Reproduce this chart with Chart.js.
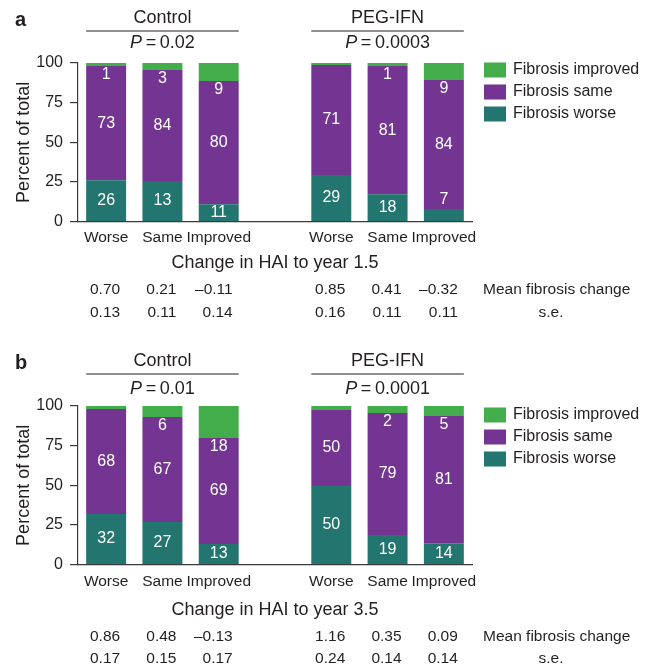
<!DOCTYPE html>
<html>
<head>
<meta charset="utf-8">
<script src="https://cdn.jsdelivr.net/npm/chart.js@4.4.1/dist/chart.umd.min.js"></script>
<style>
  html, body { margin: 0; padding: 0; background: #fff; }
  canvas { position: absolute; left: 0; }
  #chartA { top: 0; }
  #chartB { top: 334px; }
</style>
</head>
<body>
<canvas id="chartA" width="654" height="334"></canvas>
<canvas id="chartB" width="654" height="333"></canvas>
<script>
// categories (index 3 is the gap between the two groups)
const categories = ['Worse', 'Same', 'Improved', '', 'Worse', 'Same', 'Improved'];
const groups = ['Control', 'PEG-IFN'];

// panel a: bar heights as drawn (percent)
const aWorse = [26.1, 25.6, 11.0, null, 29.4, 17.3, 8.0];
const aSame = [72.0, 70.0, 77.7, null, 69.3, 80.8, 81.3];
const aImproved = [1.9, 4.4, 11.3, null, 1.3, 1.9, 10.7];
// panel a: numbers printed on the bars
const aWorseLbl = [26, 13, 11, null, 29, 18, 7];
const aSameLbl = [73, 84, 80, null, 71, 81, 84];
const aImprovedLbl = [1, 3, 9, null, null, 1, 9];
const aP = ['0.02', '0.0003'];
const aMean = [0.70, 0.21, -0.11, null, 0.85, 0.41, -0.32];
const aSE = [0.13, 0.11, 0.14, null, 0.16, 0.11, 0.11];

// panel b
const bWorse = [31.9, 26.9, 13.0, null, 49.6, 18.7, 13.5];
const bSame = [66.2, 66.2, 66.8, null, 47.9, 76.9, 80.2];
const bImproved = [1.9, 6.9, 20.2, null, 2.5, 4.4, 6.3];
const bWorseLbl = [32, 27, 13, null, 50, 19, 14];
const bSameLbl = [68, 67, 69, null, 50, 79, 81];
const bImprovedLbl = [null, 6, 18, null, null, 2, 5];
const bP = ['0.01', '0.0001'];
const bMean = [0.86, 0.48, -0.13, null, 1.16, 0.35, 0.09];
const bSE = [0.17, 0.15, 0.17, null, 0.24, 0.14, 0.14];

const FONT = "'Liberation Sans', Arial, Helvetica, sans-serif";
const INK = '#231f20';
const AXIS = '#3a3a3a';
const GREEN = '#42ad4a';
const PURPLE = '#733591';
const TEAL = '#237570';

Chart.defaults.font.family = FONT;
Chart.defaults.color = INK;

function fmt(v) {
    return v.toFixed(2).replace('-', '\u2013');
}

// draws the texts around the bars: headers, labels in bars, legend and the table below
const annotations = {
    id: 'annotations',
    afterDatasetsDraw(chart, args, opts) {
        const ctx = chart.ctx;
        const worse = chart.getDatasetMeta(0).data;
        const same = chart.getDatasetMeta(1).data;
        ctx.save();
        ctx.fillStyle = '#fff';
        ctx.font = `16px ${FONT}`;
        ctx.textAlign = 'center';
        ctx.textBaseline = 'middle';
        for (let i = 0; i < worse.length; i++) {
            if (opts.worseLbl[i] == null) continue;
            const w = worse[i], s = same[i];
            const h = w.base - w.y;
            ctx.fillText(opts.worseLbl[i], w.x, h >= 15 ? (w.y + w.base) / 2 : w.y - 9);
            ctx.fillText(opts.sameLbl[i], s.x, (s.y + s.base) / 2);
            if (opts.improvedLbl[i] != null) {
                ctx.fillText(opts.improvedLbl[i], s.x, s.y + 9);
            }
        }
        ctx.restore();
    },
    afterDraw(chart, args, opts) {
        const ctx = chart.ctx;
        const area = chart.chartArea;
        const worse = chart.getDatasetMeta(0).data;
        ctx.save();
        ctx.fillStyle = INK;
        ctx.strokeStyle = INK;

        // panel letter
        ctx.font = `bold 20px ${FONT}`;
        ctx.textAlign = 'left';
        ctx.textBaseline = 'alphabetic';
        ctx.fillText(opts.letter, 15, area.top - 37);

        // group headers
        [[0, 2], [4, 6]].forEach(([from, to], g) => {
            const x0 = worse[from].x - worse[from].width / 2;
            const x1 = worse[to].x + worse[to].width / 2;
            const cx = (x0 + x1) / 2;
            ctx.font = `18px ${FONT}`;
            ctx.textAlign = 'center';
            ctx.textBaseline = 'middle';
            ctx.fillText(groups[g], cx, area.top - 45);
            ctx.lineWidth = 1.2;
            ctx.beginPath();
            ctx.moveTo(x0, area.top - 32);
            ctx.lineTo(x1, area.top - 32);
            ctx.stroke();
            const pPart = 'P';
            const rest = '\u2009=\u2009' + opts.p[g];
            ctx.font = `italic 18px ${FONT}`;
            const wp = ctx.measureText(pPart).width;
            ctx.font = `18px ${FONT}`;
            const wr = ctx.measureText(rest).width;
            const start = cx - (wp + wr) / 2;
            ctx.textAlign = 'left';
            ctx.font = `italic 18px ${FONT}`;
            ctx.fillText(pPart, start, area.top - opts.pOff);
            ctx.font = `18px ${FONT}`;
            ctx.fillText(rest, start + wp, area.top - opts.pOff);
        });

        // legend
        const sets = chart.data.datasets.slice().reverse();
        ctx.font = `16px ${FONT}`;
        ctx.textAlign = 'left';
        ctx.textBaseline = 'middle';
        sets.forEach((ds, k) => {
            const y = area.top + opts.legendOff + k * 22;
            ctx.fillStyle = ds.backgroundColor;
            ctx.fillRect(area.right + 12, y - 7.5, 22, 15);
            ctx.fillStyle = INK;
            ctx.fillText(ds.label, area.right + 41, y);
        });

        // axis caption and table below
        ctx.textAlign = 'center';
        ctx.font = `18px ${FONT}`;
        ctx.fillText(opts.caption, (area.left + area.right) / 2, area.bottom + opts.rows[0]);
        ctx.font = `15.5px ${FONT}`;
        ctx.textAlign = 'right';
        for (let i = 0; i < worse.length; i++) {
            if (opts.mean[i] == null) continue;
            ctx.fillText(fmt(opts.mean[i]), worse[i].x + 14, area.bottom + opts.rows[1]);
            ctx.fillText(fmt(opts.se[i]), worse[i].x + 14, area.bottom + opts.rows[2]);
        }
        ctx.textAlign = 'left';
        ctx.fillText('Mean fibrosis change', area.right + 11, area.bottom + opts.rows[1]);
        ctx.textAlign = 'center';
        ctx.fillText('s.e.', area.right + 79, area.bottom + opts.rows[2]);
        ctx.restore();
    }
};

function makePanel(id, p) {
    const canvas = document.getElementById(id);
    new Chart(canvas, {
        type: 'bar',
        data: {
            labels: categories,
            datasets: [
                { label: 'Fibrosis worse', data: p.worse, backgroundColor: TEAL },
                { label: 'Fibrosis same', data: p.same, backgroundColor: PURPLE },
                { label: 'Fibrosis improved', data: p.improved, backgroundColor: GREEN }
            ]
        },
        options: {
            responsive: false,
            animation: false,
            datasets: {
                bar: { categoryPercentage: 1, barPercentage: 0.71, borderWidth: 0 }
            },
            layout: {
                padding: { left: 8, right: 182, top: p.top, bottom: canvas.height - p.bottom - 30 }
            },
            scales: {
                x: {
                    stacked: true,
                    grid: { display: false, drawTicks: false },
                    border: { display: true, color: AXIS, width: 1.2 },
                    ticks: { color: INK, font: { size: 15.5 }, padding: p.tickPad, autoSkip: false, maxRotation: 0 },
                    afterFit: s => { s.height = 30; }
                },
                y: {
                    stacked: true,
                    min: 0,
                    max: 100,
                    ticks: { stepSize: 25, color: INK, font: { size: 16 }, padding: 7 },
                    grid: { drawOnChartArea: false, drawTicks: true, tickLength: 8, color: AXIS, lineWidth: 1.2 },
                    border: { display: true, color: AXIS, width: 1.2 },
                    title: { display: true, text: 'Percent of total', color: INK, font: { size: 18 }, padding: { top: 5, bottom: 0 } },
                    afterFit: s => { s.width = 70; }
                }
            },
            plugins: {
                legend: { display: false },
                tooltip: { enabled: false },
                annotations: {
                    letter: p.letter,
                    p: p.p,
                    pOff: p.pOff,
                    legendOff: p.legendOff,
                    caption: p.caption,
                    rows: p.rows,
                    worseLbl: p.worseLbl,
                    sameLbl: p.sameLbl,
                    improvedLbl: p.improvedLbl,
                    mean: p.mean,
                    se: p.se
                }
            }
        },
        plugins: [annotations]
    });
}

makePanel('chartA', {
    letter: 'a', top: 63, bottom: 221.7, tickPad: 7, pOff: 20, legendOff: 7,
    caption: 'Change in HAI to year 1.5', rows: [41, 68.5, 91],
    worse: aWorse, same: aSame, improved: aImproved,
    worseLbl: aWorseLbl, sameLbl: aSameLbl, improvedLbl: aImprovedLbl,
    p: aP, mean: aMean, se: aSE
});

makePanel('chartB', {
    letter: 'b', top: 72, bottom: 230.7, tickPad: 8, pOff: 17, legendOff: 9,
    caption: 'Change in HAI to year 3.5', rows: [45, 72.5, 94],
    worse: bWorse, same: bSame, improved: bImproved,
    worseLbl: bWorseLbl, sameLbl: bSameLbl, improvedLbl: bImprovedLbl,
    p: bP, mean: bMean, se: bSE
});
</script>
</body>
</html>
